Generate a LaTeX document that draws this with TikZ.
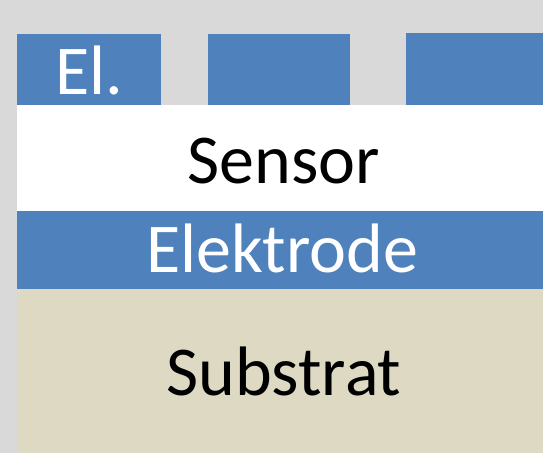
\documentclass[tikz,border=0pt]{standalone}
\usepackage{fontspec}
\setmainfont{Carlito}
\definecolor{bggray}{HTML}{D9D9D9}
\definecolor{elblue}{HTML}{4F81BD}
\definecolor{subtan}{HTML}{DDD9C3}
\begin{document}
\begin{tikzpicture}[x=1pt,y=-1pt,
  lbl/.style={inner sep=0pt,anchor=base,font=\fontsize{70}{84}\selectfont},
  whitelbl/.style={lbl,text=white},
  blacklbl/.style={lbl,text=black}]
\useasboundingbox (0,0) rectangle (543,453);
\fill[bggray] (0,0) rectangle (543,453);
% top electrodes
\fill[elblue] (17,34) rectangle (160.5,105);
\fill[elblue] (207.5,34) rectangle (350,105);
\fill[elblue] (406,33) rectangle (543,105);
% sensor layer
\fill[white] (17,105) rectangle (543,211);
% bottom electrode
\fill[elblue] (17,211) rectangle (543,289);
% substrate
\fill[subtan] (17,289) rectangle (543,453);
% labels
\node[whitelbl] (el) at (89,94) {El.};
\node[blacklbl] (sensor) at (284,183) {Sensor};
\node[whitelbl] (elektrode) at (282,272) {Elektrode};
\node[blacklbl] (substrat) at (284,395) {Substrat};
\end{tikzpicture}
\end{document}
